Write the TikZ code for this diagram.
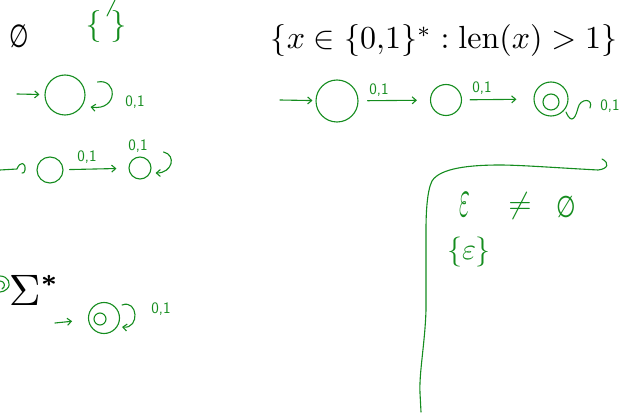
\documentclass[tikz,border=0pt]{standalone}
\usepackage{fontspec}
\newfontfamily\symfont{DejaVu Sans}
\usetikzlibrary{positioning,arrows.meta}
\definecolor{hand}{RGB}{20,140,30}

\tikzset{
  ink/.style={draw=hand, line width=1.1pt, line cap=round, line join=round},
  state/.style={circle, ink, inner sep=0pt},
  trans/.style={ink, -{Straight Barb[length=4pt,width=7pt]}},
  lbl/.style={text=hand, font=\sffamily\fontsize{16}{16}\selectfont, inner sep=1pt},
  scrawl/.style={text=hand, inner sep=0pt},
}

\begin{document}
\begin{tikzpicture}[x=1pt,y=1pt]
\useasboundingbox (0,0) rectangle (635,413);

% typed sets
\node[font=\symfont\fontsize{32}{32}\selectfont, xscale=0.7] (empty) at (19,377) {∅};
\node[scale=3.2] (lang) at (444,372) {$\{x\in\{0{,}1\}^*:\mathrm{len}(x)>1\}$};
\node[scale=4.4, anchor=base west, inner sep=0pt] (sigma) at (8,108)
  {$\Sigma$\raisebox{2.6pt}{\fontsize{5.5}{6}\selectfont\bfseries *}};

% braces next to the empty set
\node[scrawl, font=\fontsize{32}{32}\selectfont] (emptyset) at (106,386) {\{\;\}};
\draw[ink] (115,413) -- (107,397);

% row 1: empty language
\coordinate (a0) at (17,319);
\node[state, minimum size=40] (a1) at (65,318) {};
\draw[trans, shorten >=5pt] (a0) -- (a1);
\draw[trans] ([shift={(12,13)}]a1.east) .. controls +(20,4) and +(28,-4) .. ([shift={(5,-12)}]a1.east);
\node[lbl] (a1l) at (135,311) {0,1};

% row 2
\coordinate (b0) at (0,243);
\node[state, minimum size=26] (b1) at (50,243) {};
\node[state, minimum size=22] (b2) at (140,245) {};
\draw[ink] (b0) -- (17,244) .. controls (20,252) and (26,251) .. (25,243) .. controls (25,240) and (23,240) .. (22,240);
\draw[trans, shorten <=6pt, shorten >=12pt] (b1) -- (b2);
\node[lbl] (b12l) at (87,256) {0,1};
\node[lbl] (b2l) at (138,267) {0,1};
\draw[trans] ([shift={(12,16)}]b2.east) .. controls +(13,-3) and +(17,0) .. ([shift={(4,-5)}]b2.east);

% row 3: sigma star
\draw[ink] (0,137) .. controls (8,137) and (12,129) .. (7,124) .. controls (5,122) and (2,121) .. (0,121);
\draw[ink] (0,132) .. controls (5,132) and (6,126) .. (2,124);
\coordinate (c0) at (55,90);
\node[state, minimum size=31] (c1) at (104,95) {};
\node[state, minimum size=12] (c1in) at (100,94) {};
\draw[trans, shorten >=16pt] (c0) -- (c1);
\draw[trans] ([shift={(2,13)}]c1.east) .. controls +(16,6) and +(18,-2) .. ([shift={(2,-9)}]c1.east);
\node[lbl] (c1l) at (161,104) {0,1};

% top right: strings longer than one
\coordinate (d0) at (280,313);
\node[state, minimum size=42] (d1) at (337,312) {};
\node[state, minimum size=31] (d2) at (446,313) {};
\node[state, minimum size=34] (d3) at (551,314) {};
\node[state, minimum size=16] (d3in) at (551,311) {};
\draw[trans, shorten >=3pt] (d0) -- (d1);
\draw[trans, shorten <=9pt, shorten >=13pt] (d1) -- (d2);
\draw[trans, shorten <=8pt, shorten >=17pt] (d2) -- (d3);
\node[lbl] (d12l) at (379,323) {0,1};
\node[lbl] (d23l) at (482,325) {0,1};
\draw[ink] (566,301) .. controls (572,287) and (576,297) .. (578,305) .. controls (580,315) and (594,315) .. (590,305);
\node[lbl] (d3l) at (610,307) {0,1};

% bracket with the epsilon note
\draw[ink] (602,254) .. controls (610,250) and (608,244) .. (598,243)
  .. controls (560,245) and (520,248) .. (500,248)
  .. controls (470,248) and (440,245) .. (432,232)
  .. controls (427,222) and (426,200) .. (426,183) -- (426,103)
  .. controls (425,70) and (419,40) .. (420,20) -- (421,1);
\node[scrawl, xscale=2.3, yscale=5.5] (eps) at (465,208) {$\varepsilon$};
\node[scrawl, scale=3] (neq) at (520,207) {$\neq$};
\node[scrawl, font=\symfont\fontsize{30}{30}\selectfont, xscale=0.75] (none) at (566,206) {∅};
\node[scrawl, scale=3] (epsset) at (469,161) {$\{\varepsilon\}$};
\end{tikzpicture}
\end{document}
